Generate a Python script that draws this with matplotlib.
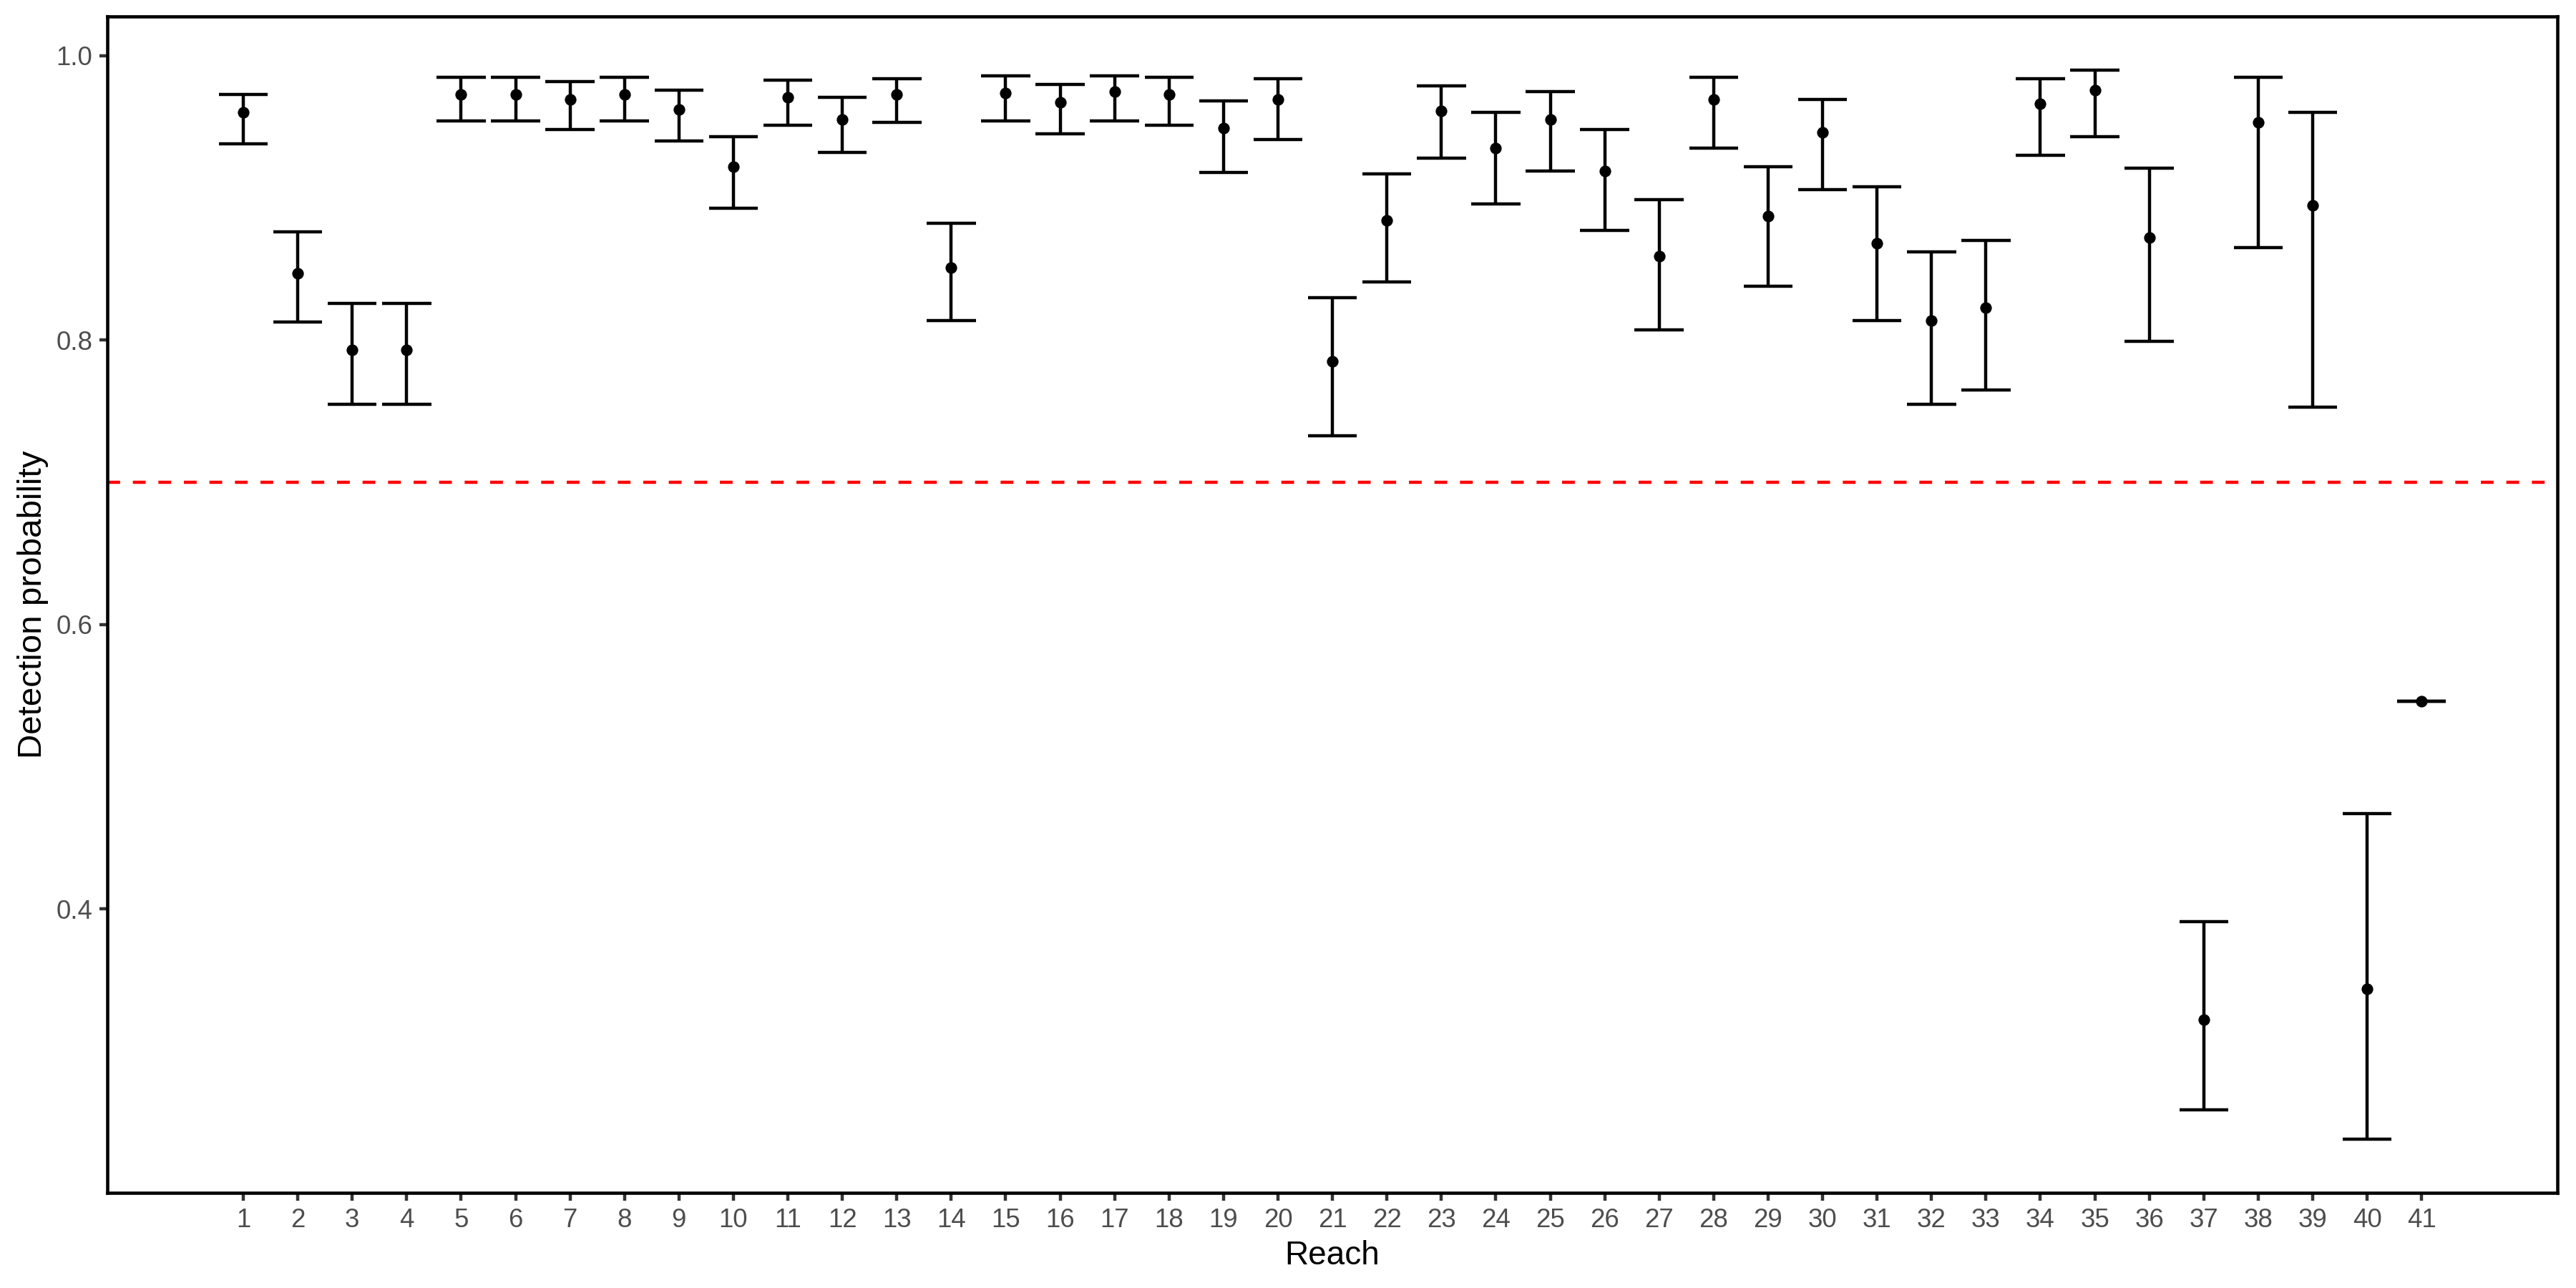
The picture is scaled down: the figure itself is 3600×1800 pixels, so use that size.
import numpy as np
import matplotlib
matplotlib.use('Agg')
import matplotlib.pyplot as plt
from matplotlib.ticker import FormatStrFormatter

# detection probability per reach (estimate with lower/upper bounds)
reach = list(range(1, 42))
estimate = [0.960, 0.847, 0.793, 0.793, 0.973, 0.973, 0.969, 0.973, 0.962, 0.922,
            0.971, 0.955, 0.973, 0.851, 0.974, 0.967, 0.975, 0.973, 0.949, 0.969,
            0.785, 0.884, 0.961, 0.935, 0.955, 0.919, 0.859, 0.969, 0.887, 0.946,
            0.868, 0.814, 0.823, 0.966, 0.976, 0.872, 0.322, 0.953, 0.895, 0.344,
            0.546]
lower = [0.938, 0.813, 0.755, 0.755, 0.954, 0.954, 0.948, 0.954, 0.940, 0.893,
         0.951, 0.932, 0.953, 0.814, 0.954, 0.945, 0.954, 0.951, 0.918, 0.941,
         0.733, 0.841, 0.928, 0.896, 0.919, 0.877, 0.807, 0.935, 0.838, 0.906,
         0.814, 0.755, 0.765, 0.930, 0.943, 0.799, 0.259, 0.865, 0.753, 0.238,
         0.546]
upper = [0.973, 0.876, 0.826, 0.826, 0.985, 0.985, 0.982, 0.985, 0.976, 0.943,
         0.983, 0.971, 0.984, 0.882, 0.986, 0.980, 0.986, 0.985, 0.968, 0.984,
         0.830, 0.917, 0.979, 0.960, 0.975, 0.948, 0.899, 0.985, 0.922, 0.969,
         0.908, 0.862, 0.870, 0.984, 0.990, 0.921, 0.391, 0.985, 0.960, 0.467,
         0.546]
threshold = 0.7
yticks = [0.4, 0.6, 0.8, 1.0]


def main():
    plt.rcParams['font.family'] = ['Liberation Sans', 'DejaVu Sans']

    x = np.array(reach, dtype=float)
    lo = np.array(lower)
    hi = np.array(upper)
    cap = 0.45
    lw = 1.07  # ggplot linewidth 0.5

    fig = plt.figure(figsize=(12, 6), dpi=300)
    ax = fig.add_axes([0.0417, 0.0739, 0.9511, 0.9133])

    # error bars drawn like geom_errorbar (width 0.9)
    ax.vlines(x, lo, hi, color='black', lw=lw)
    ax.hlines(lo, x - cap, x + cap, color='black', lw=lw)
    ax.hlines(hi, x - cap, x + cap, color='black', lw=lw)
    ax.plot(x, estimate, 'o', color='black', ms=3.9, mew=0)

    ax.axhline(threshold, color='red', lw=lw, dashes=(4, 4))

    ax.margins(x=0.05, y=0.05)

    ax.set_xticks(reach)
    ax.set_xticklabels([str(r) for r in reach])
    ax.set_yticks(yticks)
    ax.yaxis.set_major_formatter(FormatStrFormatter('%.1f'))
    ax.tick_params(axis='both', length=2.75, width=lw, color='#333333',
                   labelcolor='#4D4D4D', labelsize=8.8, pad=2.2)

    for sp in ax.spines.values():
        sp.set_linewidth(1.1)
        sp.set_color('black')

    ax.set_xlabel('Reach', fontsize=11, labelpad=2.5)
    ax.set_ylabel('Detection probability', fontsize=11.4, labelpad=2.4)

    plt.savefig('out.png', dpi=300, facecolor='white')


if (__name__ == "__main__"):
    main()
